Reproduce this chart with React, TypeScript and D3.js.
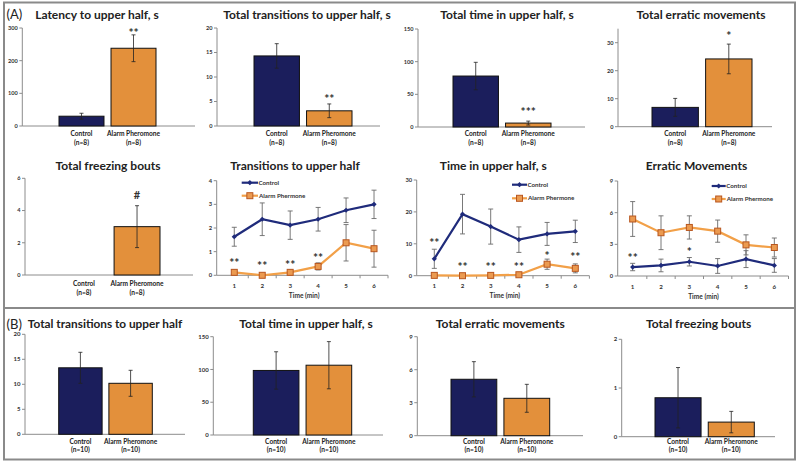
import React from "react";
import * as d3 from "d3";

// ---------- data ----------
const groups = ["Control", "Alarm Pheromone"];
const nLabelsA = ["(n=8)", "(n=8)"];
const nLabelsB = ["(n=10)", "(n=10)"];

const latencyMean = [30, 238];
const latencySem = [9, 41];
const latencyStars = ["", "**"];
const latencyStarAt = [0, 294];

const transMean = [14.3, 3.1];
const transSem = [2.5, 1.4];
const transStars = ["", "**"];
const transStarAt = [0, 6.3];

const timeMean = [78, 6];
const timeSem = [21, 3];
const timeStars = ["", "***"];
const timeStarAt = [0, 27.6];

const erraticMean = [6.9, 24.2];
const erraticSem = [3.2, 5.3];
const erraticStars = ["", "*"];
const erraticStarAt = [0, 33.5];

const freezeMean = [0, 3];
const freezeSem = [0, 1.3];
const freezeStars = ["", "#"];
const freezeStarAt = [0, 5.0];

const minutes = ["1", "2", "3", "4", "5", "6"];
const seriesNames = ["Control", "Alarm Phermone"];
const timeAxisLabel = "Time (min)";

const transCtrl = [1.63, 2.37, 2.12, 2.37, 2.75, 3.0];
const transCtrlErr = [0.4, 0.69, 0.6, 0.5, 0.52, 0.6];
const transAlarm = [0.125, 0, 0.125, 0.375, 1.375, 1.125];
const transAlarmErr = [0.1, 0, 0.1, 0.15, 0.77, 0.78];
const transMinStars = ["**", "**", "**", "**", "", ""];
const transMinStarAt = [0.65, 0.52, 0.57, 0.86, 0, 0];

const timeCtrl = [5.3, 19.3, 15.4, 11.3, 13.1, 13.9];
const timeCtrlErr = [3, 6.2, 5.5, 4, 3.6, 3.5];
const timeAlarm = [0.1, 0, 0.1, 0.3, 3.6, 2.3];
const timeAlarmErr = [0.1, 0, 0.1, 0.2, 1.6, 1.4];
const timeMinStars = ["**", "**", "**", "**", "*", "**"];
const timeMinStarAt = [11.4, 3.9, 3.9, 3.9, 7.2, 6.8];

const errCtrl = [0.85, 1.0, 1.35, 0.95, 1.6, 1.0];
const errCtrlErr = [0.35, 0.6, 0.4, 0.7, 0.8, 0.65];
const errAlarm = [5.4, 4.1, 4.6, 4.25, 2.95, 2.7];
const errAlarmErr = [1.65, 1.6, 1.1, 1.05, 0.95, 0.9];
const errMinStars = ["**", "", "*", "", "", ""];
const errMinStarAt = [2.06, 0, 2.56, 0, 0, 0];

const transBMean = [13.3, 10.2];
const transBSem = [3.1, 2.6];
const timeBMean = [98.5, 106.5];
const timeBSem = [28.5, 36];
const erraticBMean = [5.13, 3.4];
const erraticBSem = [1.6, 1.27];
const freezeBMean = [0.8, 0.3];
const freezeBSem = [0.62, 0.22];

const titles = {
  latency: "Latency to upper half, s",
  trans: "Total transitions to upper half, s",
  time: "Total time in upper half, s",
  erratic: "Total erratic movements",
  freeze: "Total freezing bouts",
  transMin: "Transitions to upper half",
  timeMin: "Time in upper half, s",
  errMin: "Erratic Movements",
  transB: "Total transitions to upper half",
  timeB: "Total time in upper half, s",
  erraticB: "Total erratic movements",
  freezeB: "Total freezing bouts",
};

// ---------- styles ----------
const FONT = "Lato, 'Open Sans', sans-serif";
const NAVY = "#1b1e5c";
const ORANGE = "#e3903b";
const AXIS = "#8c8c8c";
const TEXT = "#222";
const LINE_NAVY = "#1f2b7b";
const LINE_ORANGE = "#f2a048";

type BarP = {
  title: string; tx: number; ty: number; tSize: number;
  mean: number[]; sem: number[]; stars?: string[]; starAt?: number[];
  nl: string[];
  ax: number; aEnd: number; y0: number; yTop: number; max: number; step: number;
  barL: number; barR: number; tf: number; l1: number; l2: number;
};

function BarPanel({ p }: { p: BarP }) {
  const y = d3.scaleLinear().domain([0, p.max]).range([p.y0, p.yTop]);
  const x = d3.scaleBand().domain(groups).range([p.barL, p.barR]).paddingInner(0.135);
  const ticks = d3.range(0, p.max + 1e-9, p.step);
  const bw = x.bandwidth();
  const colors = [NAVY, ORANGE];
  return (
    <g fontFamily={FONT}>
      <text x={p.tx} y={p.ty} textAnchor="middle" fontWeight="bold" fontSize={p.tSize} fill={TEXT}>{p.title}</text>
      <line x1={p.ax} x2={p.ax} y1={y(p.max)} y2={y(0)} stroke={AXIS} strokeWidth={1} />
      {ticks.map((t) => (
        <g key={t}>
          <line x1={p.ax - 3} x2={p.ax} y1={y(t)} y2={y(t)} stroke={AXIS} />
          <text x={p.ax - 4.5} y={y(t)} dy="0.35em" textAnchor="end" fontSize={p.tf} fontWeight="bold" fill="#333">{t}</text>
        </g>
      ))}
      <line x1={p.ax} x2={p.aEnd} y1={y(0)} y2={y(0)} stroke={AXIS} strokeWidth={1} />
      {groups.map((g, i) =>
        p.mean[i] > 0 ? (
          <rect key={g} x={x(g)} y={y(p.mean[i])} width={bw} height={y(0) - y(p.mean[i])} fill={colors[i]} stroke="#111" strokeWidth={1} />
        ) : null
      )}
      {groups.map((g, i) => {
        if (p.sem[i] <= 0) return null;
        const cx = (x(g) as number) + bw / 2;
        const hi = y(p.mean[i] + p.sem[i]);
        const lo = y(p.mean[i] - p.sem[i]);
        return (
          <g key={g} stroke="#222" strokeWidth={0.8}>
            <line x1={cx} x2={cx} y1={hi} y2={lo} />
            <line x1={cx - 2} x2={cx + 2} y1={hi} y2={hi} />
            <line x1={cx - 2} x2={cx + 2} y1={lo} y2={lo} />
          </g>
        );
      })}
      {p.stars && groups.map((g, i) =>
        p.stars![i] ? (
          <text key={g} x={(x(g) as number) + bw / 2} y={y(p.starAt![i])} dy={p.stars![i] === "#" ? "0.38em" : "0.62em"} textAnchor="middle" fontSize={p.stars![i] === "#" ? 11 : 12} fontWeight="bold" fill="#333">{p.stars![i]}</text>
        ) : null
      )}
      {groups.map((g, i) => (
        <g key={g}>
          <text x={(x(g) as number) + bw / 2} y={p.l1} textAnchor="middle" fontSize={6.6} fontWeight="bold" fill="#222">{g}</text>
          <text x={(x(g) as number) + bw / 2} y={p.l2} textAnchor="middle" fontSize={6.6} fontWeight="bold" fill="#222">{p.nl[i]}</text>
        </g>
      ))}
    </g>
  );
}

type LineP = {
  title: string; tx: number; ty: number;
  ctrl: number[]; ctrlErr: number[]; alarm: number[]; alarmErr: number[];
  stars: string[]; starAt: number[];
  ax: number; xl: number; xr: number; y0: number; yTop: number; max: number; step: number;
  lx1: number; lx2: number; ly1: number; ly2: number;
};

function LinePanel({ p }: { p: LineP }) {
  const y = d3.scaleLinear().domain([0, p.max]).range([p.y0, p.yTop]);
  const x = d3.scaleBand().domain(minutes).range([p.xl, p.xr]);
  const cx = (m: string) => (x(m) as number) + x.bandwidth() / 2;
  const ticks = d3.range(0, p.max + 1e-9, p.step);
  const line = d3.line<number>().x((_, i) => cx(minutes[i])).y((v) => y(v));
  const errBars = (vals: number[], errs: number[], key: string) =>
    vals.map((v, i) => {
      if (errs[i] <= 0) return null;
      const c = cx(minutes[i]);
      const hi = y(v + errs[i]);
      const lo = y(v - errs[i]);
      return (
        <g key={key + i} stroke="#6a6a6a" strokeWidth={0.9}>
          <line x1={c} x2={c} y1={hi} y2={lo} />
          <line x1={c - 2.5} x2={c + 2.5} y1={hi} y2={hi} />
          <line x1={c - 2.5} x2={c + 2.5} y1={lo} y2={lo} />
        </g>
      );
    });
  const diamond = (cxv: number, cyv: number, k: string) => (
    <path key={k} d={`M${cxv},${cyv - 2.6}L${cxv + 2.6},${cyv}L${cxv},${cyv + 2.6}L${cxv - 2.6},${cyv}Z`} fill={LINE_NAVY} />
  );
  const square = (cxv: number, cyv: number, k: string) => (
    <rect key={k} x={cxv - 3} y={cyv - 3} width={6} height={6} fill="#eb9a50" stroke="#b8561f" strokeWidth={1} />
  );
  const lmid = (p.lx1 + p.lx2) / 2;
  return (
    <g fontFamily={FONT}>
      <text x={p.tx} y={p.ty} textAnchor="middle" fontWeight="bold" fontSize={12} fill={TEXT}>{p.title}</text>
      <line x1={p.ax} x2={p.ax} y1={y(p.max)} y2={y(0)} stroke={AXIS} />
      {ticks.map((t) => (
        <g key={t}>
          <line x1={p.ax - 3} x2={p.ax} y1={y(t)} y2={y(t)} stroke={AXIS} />
          <text x={p.ax - 4.5} y={y(t)} dy="0.35em" textAnchor="end" fontSize={5.8} fontWeight="bold" fill="#333">{t}</text>
        </g>
      ))}
      <line x1={p.ax} x2={p.xr} y1={y(0)} y2={y(0)} stroke={AXIS} />
      {minutes.map((m) => (
        <line key={"t" + m} x1={(x(m) as number) + x.bandwidth()} x2={(x(m) as number) + x.bandwidth()} y1={y(0)} y2={y(0) + 3} stroke={AXIS} />
      ))}
      {minutes.map((m) => (
        <text key={"l" + m} x={cx(m)} y={p.y0 + 12.5} textAnchor="middle" fontSize={6.2} fontWeight="bold" fill="#333">{m}</text>
      ))}
      <text x={(p.xl + p.xr) / 2} y={p.y0 + 22.5} textAnchor="middle" fontSize={6.6} fontWeight="bold" fill="#333">{timeAxisLabel}</text>
      {errBars(p.ctrl, p.ctrlErr, "c")}
      {errBars(p.alarm, p.alarmErr, "a")}
      <path d={line(p.alarm) || ""} fill="none" stroke={LINE_ORANGE} strokeWidth={2.2} />
      <path d={line(p.ctrl) || ""} fill="none" stroke={LINE_NAVY} strokeWidth={2.2} />
      {p.alarm.map((v, i) => square(cx(minutes[i]), y(v), "s" + i))}
      {p.ctrl.map((v, i) => diamond(cx(minutes[i]), y(v), "d" + i))}
      {p.stars.map((s, i) =>
        s ? (
          <text key={"st" + i} x={cx(minutes[i])} y={y(p.starAt[i])} dy="0.62em" textAnchor="middle" fontSize={12} fontWeight="bold" fill="#333">{s}</text>
        ) : null
      )}
      {/* legend */}
      <line x1={p.lx1} x2={p.lx2} y1={p.ly1} y2={p.ly1} stroke={LINE_NAVY} strokeWidth={2.2} />
      {diamond(lmid, p.ly1, "ld")}
      <text x={p.lx2 + 0.5} y={p.ly1} dy="0.35em" fontSize={6.2} fontWeight="bold" fill="#333">{seriesNames[0]}</text>
      <line x1={p.lx1} x2={p.lx2} y1={p.ly2} y2={p.ly2} stroke={LINE_ORANGE} strokeWidth={2.2} />
      {square(lmid, p.ly2, "ls")}
      <text x={p.lx2 + 1} y={p.ly2} dy="0.35em" fontSize={6.2} fontWeight="bold" fill="#333">{seriesNames[1]}</text>
    </g>
  );
}

export default function App() {
  const barsA: BarP[] = [
    { title: titles.latency, tx: 97, ty: 18.5, tSize: 12, mean: latencyMean, sem: latencySem, stars: latencyStars, starAt: latencyStarAt, nl: nLabelsA,
      ax: 22.3, aEnd: 195, y0: 126, yTop: 28, max: 300, step: 100, barL: 59, barR: 156, tf: 5.6, l1: 135.5, l2: 144.5 },
    { title: titles.trans, tx: 307, ty: 18.5, tSize: 12, mean: transMean, sem: transSem, stars: transStars, starAt: transStarAt, nl: nLabelsA,
      ax: 217, aEnd: 380, y0: 126, yTop: 28, max: 20, step: 5, barL: 254, barR: 352, tf: 5.6, l1: 135.5, l2: 144.5 },
    { title: titles.time, tx: 507, ty: 18.5, tSize: 12, mean: timeMean, sem: timeSem, stars: timeStars, starAt: timeStarAt, nl: nLabelsA,
      ax: 418, aEnd: 585, y0: 127, yTop: 29, max: 150, step: 50, barL: 453, barR: 551, tf: 5.6, l1: 135.5, l2: 144.5 },
    { title: titles.erratic, tx: 701, ty: 18.5, tSize: 12, mean: erraticMean, sem: erraticSem, stars: erraticStars, starAt: erraticStarAt, nl: nLabelsA,
      ax: 618, aEnd: 772, y0: 126.7, yTop: 28.7, max: 35, step: 10, barL: 652, barR: 752, tf: 5.6, l1: 135.5, l2: 144.5 },
    { title: titles.freeze, tx: 108, ty: 169.5, tSize: 12, mean: freezeMean, sem: freezeSem, stars: freezeStars, starAt: freezeStarAt, nl: nLabelsA,
      ax: 25, aEnd: 193, y0: 275, yTop: 178.3, max: 6, step: 2, barL: 61, barR: 160, tf: 5.6, l1: 285.5, l2: 294.5 },
  ];
  const barsB: BarP[] = [
    { title: titles.transB, tx: 105, ty: 328.3, tSize: 11.8, mean: transBMean, sem: transBSem, nl: nLabelsB,
      ax: 25, aEnd: 185, y0: 434.3, yTop: 334.3, max: 20, step: 5, barL: 58.7, barR: 152.3, tf: 6, l1: 443.5, l2: 452 },
    { title: titles.timeB, tx: 306, ty: 328.3, tSize: 12, mean: timeBMean, sem: timeBSem, nl: nLabelsB,
      ax: 213.3, aEnd: 383, y0: 435, yTop: 336.7, max: 150, step: 50, barL: 253.3, barR: 351.7, tf: 6, l1: 443.5, l2: 452 },
    { title: titles.erraticB, tx: 500.3, ty: 328.3, tSize: 12, mean: erraticBMean, sem: erraticBSem, nl: nLabelsB,
      ax: 417.3, aEnd: 583, y0: 435.7, yTop: 336.7, max: 9, step: 3, barL: 451, barR: 549.7, tf: 6, l1: 443.5, l2: 452 },
    { title: titles.freezeB, tx: 698.7, ty: 328.3, tSize: 12, mean: freezeBMean, sem: freezeBSem, nl: nLabelsB,
      ax: 621.7, aEnd: 775, y0: 436.7, yTop: 339.3, max: 2, step: 1, barL: 655, barR: 754.3, tf: 6, l1: 443.5, l2: 452 },
  ];
  const lines: LineP[] = [
    { title: titles.transMin, tx: 295, ty: 169.5, ctrl: transCtrl, ctrlErr: transCtrlErr, alarm: transAlarm, alarmErr: transAlarmErr,
      stars: transMinStars, starAt: transMinStarAt, ax: 216.7, xl: 220.3, xr: 388, y0: 275.3, yTop: 180.7, max: 4, step: 1,
      lx1: 241.7, lx2: 258, ly1: 182.7, ly2: 195.7 },
    { title: titles.timeMin, tx: 493.3, ty: 169.5, ctrl: timeCtrl, ctrlErr: timeCtrlErr, alarm: timeAlarm, alarmErr: timeAlarmErr,
      stars: timeMinStars, starAt: timeMinStarAt, ax: 416.7, xl: 420.2, xr: 589.4, y0: 275.7, yTop: 180, max: 30, step: 10,
      lx1: 512, lx2: 527, ly1: 184.7, ly2: 198.3 },
    { title: titles.errMin, tx: 696.5, ty: 169.5, ctrl: errCtrl, ctrlErr: errCtrlErr, alarm: errAlarm, alarmErr: errAlarmErr,
      stars: errMinStars, starAt: errMinStarAt, ax: 617.7, xl: 618.5, xr: 788.5, y0: 276, yTop: 181, max: 9, step: 3,
      lx1: 711.7, lx2: 725.7, ly1: 186, ly2: 199 },
  ];
  return (
    <svg width={800} height={465} style={{ position: "fixed", left: 0, top: 0 }} fontFamily={FONT}>
      <rect x={0} y={0} width={800} height={465} fill="#fff" />
      <rect x={4} y={2.5} width={791} height={457} fill="none" stroke="#8a8a8a" strokeWidth={2} />
      <line x1={4} x2={795} y1={308} y2={308} stroke="#8a8a8a" strokeWidth={2} />
      <text x={6.5} y={19} fontSize={13} fill={TEXT}>(A)</text>
      <text x={6.5} y={328.5} fontSize={13} fill={TEXT}>(B)</text>
      {barsA.map((p, i) => <BarPanel key={"a" + i} p={p} />)}
      {lines.map((p, i) => <LinePanel key={"l" + i} p={p} />)}
      {barsB.map((p, i) => <BarPanel key={"b" + i} p={p} />)}
    </svg>
  );
}
